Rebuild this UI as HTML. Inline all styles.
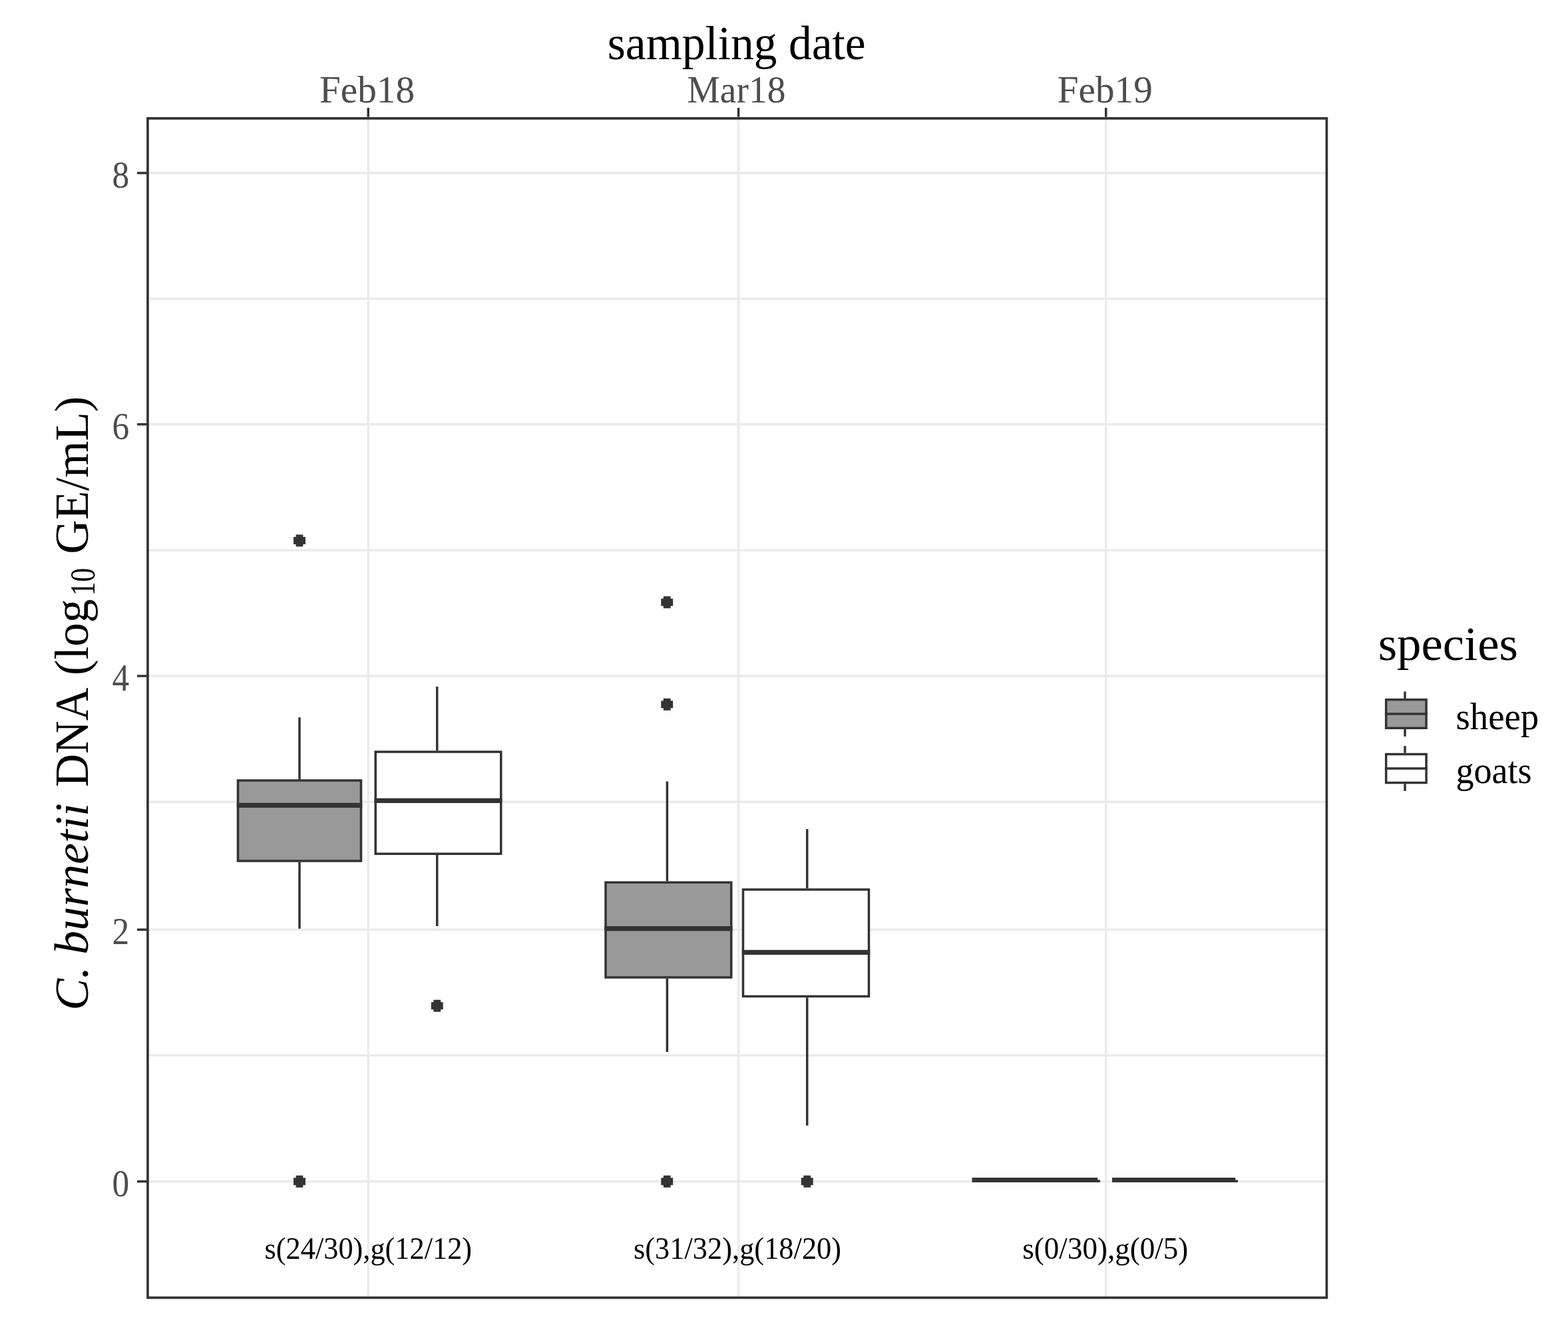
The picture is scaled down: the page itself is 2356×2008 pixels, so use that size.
<!DOCTYPE html>
<html lang="en"><head><meta charset="utf-8"><title>C. burnetii DNA by sampling date</title>
<style>
html,body{margin:0;padding:0;background:#fff;}
body{width:2356px;height:2008px;overflow:hidden;}
svg{display:block;}
text{font-family:"Liberation Serif","DejaVu Serif",serif;}
.t{font-size:71.4px;fill:#000;}
.a{font-size:57.1px;fill:#4d4d4d;}
.l{font-size:57.1px;fill:#000;}
.n{font-size:46.4px;fill:#000;}
</style></head><body>
<svg width="2356" height="2008" viewBox="0 0 2356 2008">
<rect width="2356" height="2008" fill="#fff"/>
<g stroke="#ebebeb" stroke-width="3.5" fill="none">
<line x1="220.5" x2="1995.0" y1="448.9" y2="448.9"/>
<line x1="220.5" x2="1995.0" y1="827.0" y2="827.0"/>
<line x1="220.5" x2="1995.0" y1="1205.25" y2="1205.25"/>
<line x1="220.5" x2="1995.0" y1="1586.25" y2="1586.25"/>
<line x1="220.5" x2="1995.0" y1="260.0" y2="260.0"/>
<line x1="220.5" x2="1995.0" y1="637.75" y2="637.75"/>
<line x1="220.5" x2="1995.0" y1="1016.0" y2="1016.0"/>
<line x1="220.5" x2="1995.0" y1="1397.25" y2="1397.25"/>
<line x1="220.5" x2="1995.0" y1="1775.75" y2="1775.75"/>
<line x1="553.25" x2="553.25" y1="175.75" y2="1952.0"/>
<line x1="1109.6" x2="1109.6" y1="175.75" y2="1952.0"/>
<line x1="1661.75" x2="1661.75" y1="175.75" y2="1952.0"/>
</g>
<g stroke="#333333" stroke-width="3.5" fill="none">
<line x1="450.0" x2="450.0" y1="1078.25" y2="1171.25"/>
<line x1="450.0" x2="450.0" y1="1295.75" y2="1395.75"/>
<rect x="357.5" y="1173.0" width="185.0" height="121.0" fill="#999999"/>
<line x1="355.75" x2="544.25" y1="1210.4" y2="1210.4" stroke-width="7.25"/>
</g>
<g stroke="#333333" stroke-width="3.5" fill="none">
<line x1="656.75" x2="656.75" y1="1032.0" y2="1128.25"/>
<line x1="656.75" x2="656.75" y1="1285.0" y2="1392.0"/>
<rect x="564.25" y="1130.0" width="188.5" height="153.25" fill="#ffffff"/>
<line x1="562.5" x2="754.5" y1="1203.4" y2="1203.4" stroke-width="7.25"/>
</g>
<g stroke="#333333" stroke-width="3.5" fill="none">
<line x1="1002.4" x2="1002.4" y1="1174.5" y2="1324.5"/>
<line x1="1002.4" x2="1002.4" y1="1470.75" y2="1581.0"/>
<rect x="910.0" y="1326.25" width="188.75" height="142.75" fill="#999999"/>
<line x1="908.25" x2="1100.5" y1="1395.6" y2="1395.6" stroke-width="7.25"/>
</g>
<g stroke="#333333" stroke-width="3.5" fill="none">
<line x1="1212.75" x2="1212.75" y1="1246.0" y2="1335.25"/>
<line x1="1212.75" x2="1212.75" y1="1499.25" y2="1691.75"/>
<rect x="1116.5" y="1337.0" width="189.0" height="160.5" fill="#ffffff"/>
<line x1="1114.75" x2="1307.25" y1="1431.4" y2="1431.4" stroke-width="7.25"/>
</g>
<polygon fill="#333333" points="1460.5,1770.0 1649.4,1770.0 1649.4,1773.6 1653.0,1773.6 1653.0,1777.1 1460.5,1777.1"/>
<polygon fill="#333333" points="1671.0,1770.0 1856.3000000000002,1770.0 1856.3000000000002,1773.6 1859.9,1773.6 1859.9,1777.1 1671.0,1777.1"/>
<polygon fill="#333333" points="444.62,803.55 455.38,803.55 455.38,807.12 458.95,807.12 458.95,817.88 455.38,817.88 455.38,821.45 444.62,821.45 444.62,817.88 441.05,817.88 441.05,807.12 444.62,807.12"/>
<polygon fill="#333333" points="444.62,1766.80 455.38,1766.80 455.38,1770.37 458.95,1770.37 458.95,1781.13 455.38,1781.13 455.38,1784.70 444.62,1784.70 444.62,1781.13 441.05,1781.13 441.05,1770.37 444.62,1770.37"/>
<polygon fill="#333333" points="651.37,1502.80 662.13,1502.80 662.13,1506.37 665.70,1506.37 665.70,1517.13 662.13,1517.13 662.13,1520.70 651.37,1520.70 651.37,1517.13 647.80,1517.13 647.80,1506.37 651.37,1506.37"/>
<polygon fill="#333333" points="996.87,896.30 1007.63,896.30 1007.63,899.87 1011.20,899.87 1011.20,910.63 1007.63,910.63 1007.63,914.20 996.87,914.20 996.87,910.63 993.30,910.63 993.30,899.87 996.87,899.87"/>
<polygon fill="#333333" points="996.87,1049.80 1007.63,1049.80 1007.63,1053.37 1011.20,1053.37 1011.20,1064.13 1007.63,1064.13 1007.63,1067.70 996.87,1067.70 996.87,1064.13 993.30,1064.13 993.30,1053.37 996.87,1053.37"/>
<polygon fill="#333333" points="996.87,1766.80 1007.63,1766.80 1007.63,1770.37 1011.20,1770.37 1011.20,1781.13 1007.63,1781.13 1007.63,1784.70 996.87,1784.70 996.87,1781.13 993.30,1781.13 993.30,1770.37 996.87,1770.37"/>
<polygon fill="#333333" points="1207.37,1766.80 1218.13,1766.80 1218.13,1770.37 1221.70,1770.37 1221.70,1781.13 1218.13,1781.13 1218.13,1784.70 1207.37,1784.70 1207.37,1781.13 1203.80,1781.13 1203.80,1770.37 1207.37,1770.37"/>
<rect x="221.95" y="177.9" width="1771.45" height="1772.50" fill="none" stroke="#333333" stroke-width="3.7"/>
<g stroke="#333333" stroke-width="3.5">
<line x1="206" x2="220.5" y1="260.0" y2="260.0"/>
<line x1="206" x2="220.5" y1="637.75" y2="637.75"/>
<line x1="206" x2="220.5" y1="1016.0" y2="1016.0"/>
<line x1="206" x2="220.5" y1="1397.25" y2="1397.25"/>
<line x1="206" x2="220.5" y1="1775.75" y2="1775.75"/>
<line x1="553.25" x2="553.25" y1="162" y2="175.75"/>
<line x1="1109.6" x2="1109.6" y1="162" y2="175.75"/>
<line x1="1661.75" x2="1661.75" y1="162" y2="175.75"/>
</g>
<text class="t" x="912.80" y="89.25" textLength="387.84" lengthAdjust="spacingAndGlyphs">sampling date</text>
<text class="a" x="480.00" y="154.25" textLength="143.05" lengthAdjust="spacingAndGlyphs">Feb18</text>
<text class="a" x="1032.53" y="154.25" textLength="147.98" lengthAdjust="spacingAndGlyphs">Mar18</text>
<text class="a" x="1588.75" y="154.25" textLength="143.05" lengthAdjust="spacingAndGlyphs">Feb19</text>
<text class="n" x="397.54" y="1891.5" textLength="311.59" lengthAdjust="spacingAndGlyphs">s(24/30),g(12/12)</text>
<text class="n" x="952.04" y="1891.5" textLength="312.09" lengthAdjust="spacingAndGlyphs">s(31/32),g(18/20)</text>
<text class="n" x="1536.28" y="1891.5" textLength="249.13" lengthAdjust="spacingAndGlyphs">s(0/30),g(0/5)</text>
<text class="t" x="2070.66" y="991.8" textLength="210.26" lengthAdjust="spacingAndGlyphs">species</text>
<text class="l" x="2187.38" y="1095.6" textLength="124.91" lengthAdjust="spacingAndGlyphs">sheep</text>
<text class="l" x="2187.40" y="1177.1" textLength="114.25" lengthAdjust="spacingAndGlyphs">goats</text>
<text class="a" x="168.55" y="281.75" textLength="25.69" lengthAdjust="spacingAndGlyphs">8</text>
<text class="a" x="168.55" y="659.5" textLength="25.69" lengthAdjust="spacingAndGlyphs">6</text>
<text class="a" x="168.55" y="1037.75" textLength="25.69" lengthAdjust="spacingAndGlyphs">4</text>
<text class="a" x="168.55" y="1419.0" textLength="25.69" lengthAdjust="spacingAndGlyphs">2</text>
<text class="a" x="168.55" y="1797.5" textLength="25.69" lengthAdjust="spacingAndGlyphs">0</text>
<g class="t">
<text transform="translate(131.5,1516.7) rotate(-90)" x="-2.02" y="0" textLength="311.57" lengthAdjust="spacingAndGlyphs" font-style="italic">C. burnetii</text>
<text transform="translate(131.5,1181.8) rotate(-90)" x="-0.93" y="0" textLength="149.10" lengthAdjust="spacingAndGlyphs">DNA</text>
<text transform="translate(131.5,1013.2) rotate(-90)" x="-2.00" y="0" textLength="114.89" lengthAdjust="spacingAndGlyphs">(log</text>
<text transform="translate(141.5,893.2) rotate(-90)" x="-2.21" y="0" textLength="41.71" lengthAdjust="spacingAndGlyphs" font-size="52.0px">10</text>
<text transform="translate(131.5,831.8) rotate(-90)" x="-1.00" y="0" textLength="237.36" lengthAdjust="spacingAndGlyphs">GE/mL)</text>
</g>
<g stroke="#333333" stroke-width="3.5" fill="none">
<line x1="2111.0" x2="2111.0" y1="1039.4" y2="1049.8"/>
<line x1="2111.0" x2="2111.0" y1="1096.0" y2="1106.9"/>
<rect x="2082.65" y="1051.55" width="60.40000000000009" height="42.700000000000045" fill="#999999"/>
<line x1="2080.9" x2="2144.8" y1="1073.0" y2="1073.0"/>
</g>
<g stroke="#333333" stroke-width="3.5" fill="none">
<line x1="2111.0" x2="2111.0" y1="1121.2" y2="1131.8"/>
<line x1="2111.0" x2="2111.0" y1="1178.2" y2="1188.9"/>
<rect x="2082.65" y="1133.55" width="60.40000000000009" height="42.90000000000009" fill="#ffffff"/>
<line x1="2080.9" x2="2144.8" y1="1155.1" y2="1155.1"/>
</g>
</svg></body></html>
